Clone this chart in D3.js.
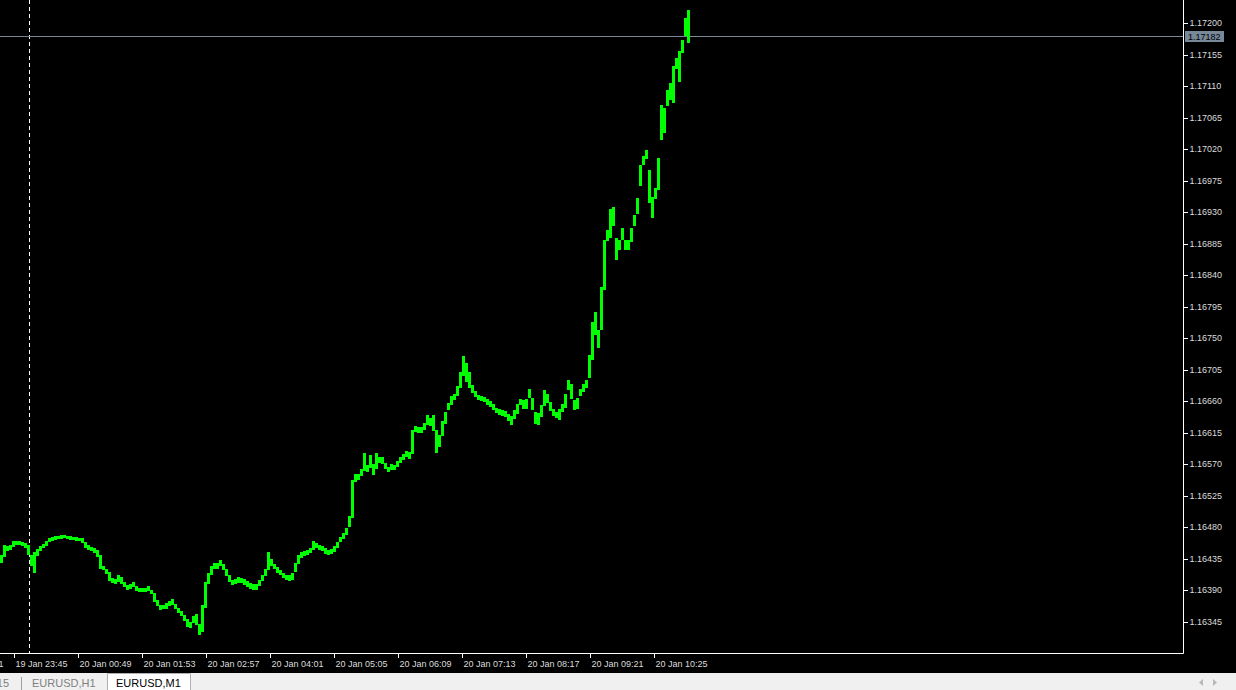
<!DOCTYPE html>
<html>
<head>
<meta charset="utf-8">
<script src="https://cdn.jsdelivr.net/npm/d3@7"></script>
<style>
html, body { margin: 0; padding: 0; background: #000; overflow: hidden; }
svg { display: block; }
text { font-family: "Liberation Sans", Arial, sans-serif; }
</style>
</head>
<body>
<svg id="chart"></svg>
<script>
// EURUSD M1 window, price series (3-minute high/low pairs)
const firstBar = "19 Jan 23:31";
const barMinutes = 3;

const highs = [
  1.16440, 1.16454, 1.16453, 1.16454, 1.16460, 1.16460, 1.16460, 1.16459, 1.16457, 1.16454,
  1.16440, 1.16444, 1.16449, 1.16453, 1.16456, 1.16460, 1.16464, 1.16466, 1.16467, 1.16467,
  1.16469, 1.16469, 1.16467, 1.16467, 1.16466, 1.16466, 1.16464, 1.16464, 1.16459, 1.16454,
  1.16452, 1.16450, 1.16447, 1.16440, 1.16424, 1.16420, 1.16416, 1.16407, 1.16406, 1.16412,
  1.16409, 1.16402, 1.16397, 1.16399, 1.16402, 1.16396, 1.16393, 1.16393, 1.16393, 1.16396,
  1.16390, 1.16386, 1.16376, 1.16369, 1.16369, 1.16372, 1.16374, 1.16377, 1.16370, 1.16364,
  1.16360, 1.16354, 1.16349, 1.16344, 1.16353, 1.16356, 1.16342, 1.16369, 1.16402, 1.16414,
  1.16424, 1.16429, 1.16429, 1.16433, 1.16427, 1.16420, 1.16412, 1.16404, 1.16406, 1.16409,
  1.16407, 1.16406, 1.16403, 1.16400, 1.16399, 1.16399, 1.16404, 1.16412, 1.16420, 1.16444,
  1.16434, 1.16427, 1.16423, 1.16419, 1.16414, 1.16412, 1.16412, 1.16414, 1.16429, 1.16440,
  1.16444, 1.16446, 1.16447, 1.16450, 1.16460, 1.16457, 1.16454, 1.16453, 1.16450, 1.16447,
  1.16449, 1.16453, 1.16459, 1.16466, 1.16472, 1.16479, 1.16496, 1.16547, 1.16556, 1.16556,
  1.16563, 1.16586, 1.16569, 1.16583, 1.16570, 1.16586, 1.16580, 1.16580, 1.16572, 1.16566,
  1.16570, 1.16569, 1.16574, 1.16580, 1.16584, 1.16589, 1.16587, 1.16619, 1.16624, 1.16623,
  1.16623, 1.16629, 1.16640, 1.16636, 1.16640, 1.16619, 1.16612, 1.16632, 1.16644, 1.16657,
  1.16667, 1.16670, 1.16682, 1.16702, 1.16724, 1.16714, 1.16702, 1.16683, 1.16674, 1.16669,
  1.16667, 1.16666, 1.16663, 1.16660, 1.16656, 1.16650, 1.16649, 1.16647, 1.16646, 1.16642,
  1.16639, 1.16647, 1.16656, 1.16663, 1.16662, 1.16663, 1.16677, 1.16664, 1.16644, 1.16643,
  1.16654, 1.16676, 1.16670, 1.16659, 1.16649, 1.16644, 1.16649, 1.16656, 1.16670, 1.16690,
  1.16684, 1.16662, 1.16664, 1.16677, 1.16684, 1.16690, 1.16726, 1.16773, 1.16787, 1.16762,
  1.16823, 1.16890, 1.16904, 1.16934, 1.16937, 1.16893, 1.16890, 1.16907, 1.16890, 1.16890,
  1.16907, 1.16926, 1.16950, 1.16997, 1.17010, 1.17019, 1.16990, 1.16952, 1.16964, 1.17007,
  1.17083, 1.17079, 1.17104, 1.17114, 1.17139, 1.17150, 1.17160, 1.17176, 1.17207, 1.17219
];

const lows = [
  1.16429, 1.16437, 1.16446, 1.16447, 1.16452, 1.16454, 1.16454, 1.16453, 1.16450, 1.16440,
  1.16424, 1.16414, 1.16439, 1.16446, 1.16450, 1.16453, 1.16459, 1.16460, 1.16462, 1.16463,
  1.16463, 1.16464, 1.16463, 1.16462, 1.16462, 1.16460, 1.16460, 1.16457, 1.16450, 1.16447,
  1.16446, 1.16443, 1.16437, 1.16420, 1.16419, 1.16413, 1.16403, 1.16400, 1.16399, 1.16402,
  1.16399, 1.16394, 1.16390, 1.16392, 1.16394, 1.16389, 1.16387, 1.16387, 1.16387, 1.16389,
  1.16384, 1.16373, 1.16367, 1.16362, 1.16363, 1.16363, 1.16367, 1.16369, 1.16363, 1.16357,
  1.16353, 1.16346, 1.16337, 1.16336, 1.16343, 1.16340, 1.16326, 1.16330, 1.16364, 1.16399,
  1.16412, 1.16420, 1.16420, 1.16424, 1.16419, 1.16410, 1.16402, 1.16397, 1.16399, 1.16400,
  1.16400, 1.16397, 1.16394, 1.16392, 1.16390, 1.16390, 1.16396, 1.16403, 1.16410, 1.16419,
  1.16424, 1.16420, 1.16414, 1.16412, 1.16407, 1.16404, 1.16403, 1.16404, 1.16416, 1.16427,
  1.16436, 1.16439, 1.16440, 1.16443, 1.16447, 1.16450, 1.16447, 1.16446, 1.16442, 1.16440,
  1.16442, 1.16444, 1.16450, 1.16459, 1.16463, 1.16469, 1.16480, 1.16493, 1.16544, 1.16547,
  1.16553, 1.16560, 1.16559, 1.16564, 1.16554, 1.16563, 1.16572, 1.16570, 1.16563, 1.16559,
  1.16562, 1.16562, 1.16566, 1.16572, 1.16576, 1.16580, 1.16577, 1.16584, 1.16616, 1.16614,
  1.16614, 1.16619, 1.16626, 1.16624, 1.16617, 1.16586, 1.16594, 1.16610, 1.16627, 1.16647,
  1.16654, 1.16662, 1.16667, 1.16679, 1.16696, 1.16687, 1.16679, 1.16672, 1.16666, 1.16662,
  1.16660, 1.16659, 1.16654, 1.16652, 1.16647, 1.16643, 1.16640, 1.16639, 1.16637, 1.16632,
  1.16626, 1.16634, 1.16642, 1.16654, 1.16649, 1.16649, 1.16664, 1.16647, 1.16627, 1.16626,
  1.16637, 1.16653, 1.16657, 1.16646, 1.16639, 1.16636, 1.16633, 1.16644, 1.16650, 1.16676,
  1.16663, 1.16647, 1.16649, 1.16667, 1.16673, 1.16679, 1.16693, 1.16719, 1.16754, 1.16736,
  1.16762, 1.16819, 1.16889, 1.16893, 1.16910, 1.16862, 1.16876, 1.16890, 1.16876, 1.16876,
  1.16887, 1.16910, 1.16927, 1.16967, 1.16997, 1.17006, 1.16943, 1.16922, 1.16949, 1.16962,
  1.17033, 1.17043, 1.17082, 1.17090, 1.17086, 1.17134, 1.17116, 1.17157, 1.17182, 1.17172
];

const timeTicks = [
  "19 Jan 22:41", "19 Jan 23:45", "20 Jan 00:49", "20 Jan 01:53", "20 Jan 02:57", "20 Jan 04:01",
  "20 Jan 05:05", "20 Jan 06:09", "20 Jan 07:13", "20 Jan 08:17", "20 Jan 09:21", "20 Jan 10:25"
];

const priceTicks = [
  1.17200, 1.17155, 1.17110, 1.17065, 1.17020, 1.16975, 1.16930, 1.16885, 1.16840, 1.16795,
  1.16750, 1.16705, 1.16660, 1.16615, 1.16570, 1.16525, 1.16480, 1.16435, 1.16390, 1.16345
];

const bidPrice = 1.17182;
const separatorTime = "20 Jan 00:00";
const tabs = ["EURUSD,M15", "EURUSD,H1", "EURUSD,M1"];

const W = 1236, H = 690;
const plotW = 1183, plotH = 653;

const parse = d3.timeParse("%d %b %H:%M");
const t0 = parse(firstBar);

const svg = d3.select("#chart").attr("width", W).attr("height", H);
svg.append("rect").attr("width", W).attr("height", H).attr("fill", "#000");

const x = d3.scaleTime()
    .domain([t0, d3.timeMinute.offset(t0, 691)])
    .range([0, 691]);

const y = d3.scaleLinear()
    .domain([1.16300, 1.17233])
    .range([plotH, 0]);

const bars = highs.map((h, i) => ({
    t: d3.timeMinute.offset(t0, i * barMinutes),
    high: h,
    low: lows[i]
}));

// period separator (day start)
const sepX = Math.round(x(parse(separatorTime))) + 0.5;
svg.append("line")
    .attr("x1", sepX).attr("x2", sepX)
    .attr("y1", 0).attr("y2", plotH)
    .attr("stroke", "#fff")
    .attr("stroke-dasharray", "4,3");

// bid line
const bidY = Math.round(y(bidPrice)) + 0.5;
svg.append("line")
    .attr("x1", 0).attr("x2", plotW)
    .attr("y1", bidY).attr("y2", bidY)
    .attr("stroke", "#778899");

// price bars
svg.append("g")
    .attr("shape-rendering", "crispEdges")
    .selectAll("rect")
    .data(bars)
    .enter()
    .append("rect")
    .attr("x", d => x(d.t))
    .attr("width", d => x(d3.timeMinute.offset(d.t, barMinutes)) - x(d.t))
    .attr("y", d => y(d.high))
    .attr("height", d => Math.max(2, y(d.low) - y(d.high)))
    .attr("fill", "#00ff00");

// frame
svg.append("path")
    .attr("d", `M${plotW + 0.5},0V${plotH + 0.5}H0`)
    .attr("fill", "none")
    .attr("stroke", "#fff");

// price axis
const yAxis = svg.append("g")
    .attr("transform", `translate(${plotW + 0.5},0)`)
    .call(d3.axisRight(y).tickValues(priceTicks).tickSize(4).tickPadding(2).tickFormat(d3.format(".5f")));
yAxis.select(".domain").remove();
yAxis.selectAll("line").attr("stroke", "#fff").attr("shape-rendering", "crispEdges");
yAxis.selectAll("text")
    .attr("fill", "#dcdcdc")
    .style("font-size", "9px")
    .style("font-family", "'Liberation Sans', Arial, sans-serif");

// bid label
svg.append("rect")
    .attr("x", plotW + 2).attr("y", bidY - 5.5)
    .attr("width", 39).attr("height", 11)
    .attr("fill", "#778899");
svg.append("text")
    .attr("x", plotW + 5).attr("y", bidY + 3.5)
    .attr("fill", "#000")
    .style("font-size", "9px")
    .text(d3.format(".5f")(bidPrice));

// time axis
const tg = svg.append("g").attr("shape-rendering", "crispEdges");
timeTicks.forEach(lbl => {
    const tx = Math.round(x(parse(lbl))) + 0.5;
    tg.append("line")
        .attr("x1", tx).attr("x2", tx)
        .attr("y1", plotH).attr("y2", plotH + 5)
        .attr("stroke", "#fff");
    tg.append("text")
        .attr("x", tx + 1).attr("y", plotH + 14)
        .attr("fill", "#dcdcdc")
        .style("font-size", "9px")
        .text(lbl);
});

// tab strip
svg.append("rect")
    .attr("x", 0).attr("y", 673)
    .attr("width", W).attr("height", H - 673)
    .attr("fill", "#f0f0f0");
svg.append("text")
    .attr("x", 9).attr("y", 687).attr("text-anchor", "end")
    .attr("fill", "#808080").style("font-size", "11px")
    .text(tabs[0]);
svg.append("line")
    .attr("x1", 21.5).attr("x2", 21.5).attr("y1", 677).attr("y2", 690)
    .attr("stroke", "#a0a0a0");
svg.append("text")
    .attr("x", 32).attr("y", 687)
    .attr("fill", "#808080").style("font-size", "11px")
    .text(tabs[1]);
svg.append("path")
    .attr("d", "M107.5,690V673.5H190.5V690")
    .attr("fill", "#fff")
    .attr("stroke", "#b0b0b0");
svg.append("text")
    .attr("x", 116).attr("y", 687)
    .attr("fill", "#000").style("font-size", "11px")
    .text(tabs[2]);

// scroll arrows
svg.append("path").attr("d", "M1203,679L1199,682.5L1203,686Z").attr("fill", "#b8b8b8");
svg.append("path").attr("d", "M1213,679L1217,682.5L1213,686Z").attr("fill", "#b8b8b8");
</script>
</body>
</html>
